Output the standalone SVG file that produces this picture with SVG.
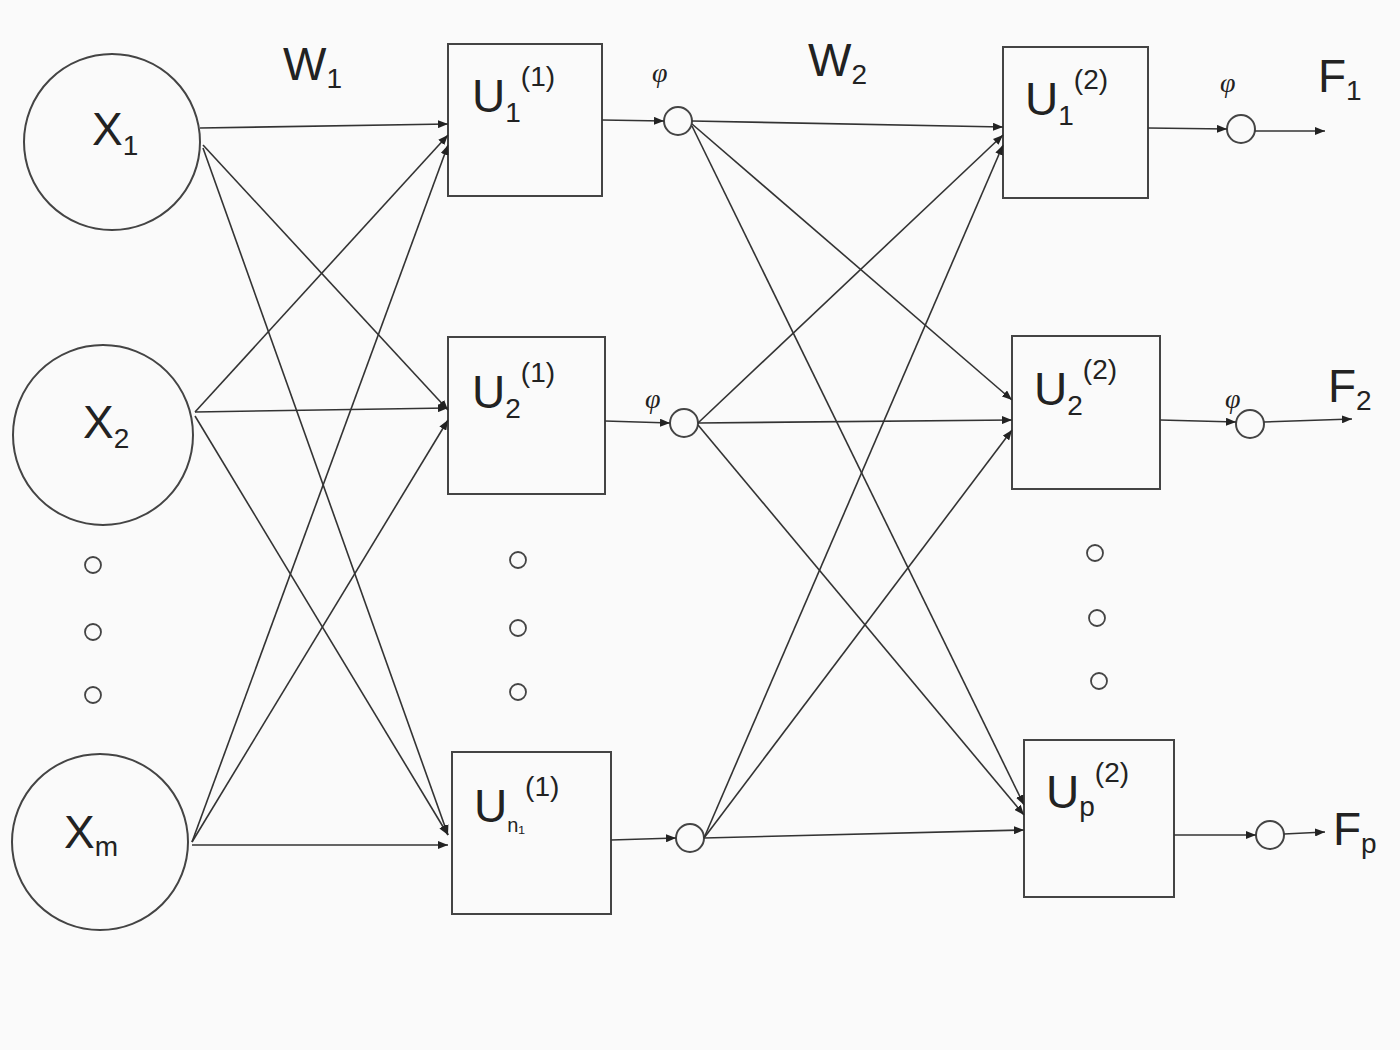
<svg xmlns="http://www.w3.org/2000/svg" width="1400" height="1050" viewBox="0 0 1400 1050">
<defs><marker id="a" markerWidth="10" markerHeight="8" refX="10" refY="4" orient="auto" markerUnits="userSpaceOnUse"><path d="M0,0 L10,4 L0,8 Z" fill="#222"/></marker></defs>
<style>
.n{fill:none;stroke:#444;stroke-width:2}
.c line{stroke:#333;stroke-width:1.6;marker-end:url(#a)}
text{font-family:"Liberation Sans",Arial,sans-serif;fill:#222}
.b{font-size:46px}.s{font-size:28px}.p{font-family:"Liberation Serif",serif;font-style:italic;font-size:28px}
</style>
<rect width="1400" height="1050" fill="#fafafa"/>
<g id="x1"><circle class="n" cx="112" cy="142" r="88"/><text class="b" x="92" y="145">X<tspan class="s" dy="10">1</tspan></text></g>
<g id="x2"><circle class="n" cx="103" cy="435" r="90"/><text class="b" x="83" y="438">X<tspan class="s" dy="10">2</tspan></text></g>
<g id="xm"><circle class="n" cx="100" cy="842" r="88"/><text class="b" x="64" y="848">X<tspan class="s" dy="8">m</tspan></text></g>
<g id="dots" class="n" style="stroke-width:1.8"><circle cx="93" cy="565" r="8"/><circle cx="93" cy="632" r="8"/><circle cx="93" cy="695" r="8"/><circle cx="518" cy="560" r="8"/><circle cx="518" cy="628" r="8"/><circle cx="518" cy="692" r="8"/><circle cx="1095" cy="553" r="8"/><circle cx="1097" cy="618" r="8"/><circle cx="1099" cy="681" r="8"/></g>
<g id="u11"><rect class="n" x="448" y="44" width="154" height="152"/><text class="b" x="472" y="112">U<tspan class="s" dy="10">1</tspan><tspan class="s" dy="-36">(1)</tspan></text></g>
<g id="u21"><rect class="n" x="448" y="337" width="157" height="157"/><text class="b" x="472" y="408">U<tspan class="s" dy="10">2</tspan><tspan class="s" dy="-36">(1)</tspan></text></g>
<g id="un1"><rect class="n" x="452" y="752" width="159" height="162"/><text class="b" x="474" y="822">U<tspan class="s" style="font-size:20px" dy="10">n₁</tspan><tspan class="s" dy="-36">(1)</tspan></text></g>
<g id="u12"><rect class="n" x="1003" y="47" width="145" height="151"/><text class="b" x="1025" y="115">U<tspan class="s" dy="10">1</tspan><tspan class="s" dy="-36">(2)</tspan></text></g>
<g id="u22"><rect class="n" x="1012" y="336" width="148" height="153"/><text class="b" x="1034" y="405">U<tspan class="s" dy="10">2</tspan><tspan class="s" dy="-36">(2)</tspan></text></g>
<g id="up2"><rect class="n" x="1024" y="740" width="150" height="157"/><text class="b" x="1046" y="808">U<tspan class="s" dy="8">p</tspan><tspan class="s" dy="-34">(2)</tspan></text></g>
<g id="s"><circle class="n" cx="678" cy="121" r="14"/><circle class="n" cx="684" cy="423" r="14"/><circle class="n" cx="690" cy="838" r="14"/><circle class="n" cx="1241" cy="129" r="14"/><circle class="n" cx="1250" cy="424" r="14"/><circle class="n" cx="1270" cy="835" r="14"/></g>
<g id="labels"><text class="b" x="283" y="80">W<tspan class="s" dy="8">1</tspan></text><text class="b" x="808" y="76">W<tspan class="s" dy="8">2</tspan></text>
<text class="p" x="652" y="82">φ</text><text class="p" x="645" y="408">φ</text><text class="p" x="1220" y="92">φ</text><text class="p" x="1225" y="408">φ</text>
<text class="b" x="1318" y="92">F<tspan class="s" dy="8">1</tspan></text><text class="b" x="1328" y="402">F<tspan class="s" dy="8">2</tspan></text><text class="b" x="1333" y="845">F<tspan class="s" dy="8">p</tspan></text></g>
<g id="connectors" class="c">
<line x1="200" y1="128" x2="448" y2="124"/><line x1="203" y1="145" x2="448" y2="410"/><line x1="203" y1="148" x2="448" y2="835"/>
<line x1="195" y1="412" x2="448" y2="135"/><line x1="195" y1="412" x2="448" y2="408"/><line x1="195" y1="416" x2="448" y2="835"/>
<line x1="192" y1="842" x2="448" y2="145"/><line x1="192" y1="842" x2="448" y2="420"/><line x1="192" y1="845" x2="448" y2="845"/>
<line x1="602" y1="120" x2="664" y2="121"/><line x1="605" y1="421" x2="670" y2="423"/><line x1="611" y1="840" x2="676" y2="838"/>
<line x1="692" y1="121" x2="1003" y2="127"/><line x1="692" y1="124" x2="1012" y2="400"/><line x1="692" y1="126" x2="1024" y2="805"/>
<line x1="698" y1="423" x2="1003" y2="135"/><line x1="698" y1="423" x2="1012" y2="420"/><line x1="698" y1="425" x2="1024" y2="815"/>
<line x1="704" y1="838" x2="1003" y2="145"/><line x1="704" y1="838" x2="1012" y2="430"/><line x1="704" y1="838" x2="1024" y2="830"/>
<line x1="1148" y1="128" x2="1227" y2="129"/><line x1="1160" y1="420" x2="1236" y2="422"/><line x1="1174" y1="835" x2="1256" y2="835"/>
<line x1="1255" y1="131" x2="1325" y2="131"/><line x1="1264" y1="422" x2="1352" y2="419"/><line x1="1284" y1="834" x2="1325" y2="832"/>
</g>
</svg>
